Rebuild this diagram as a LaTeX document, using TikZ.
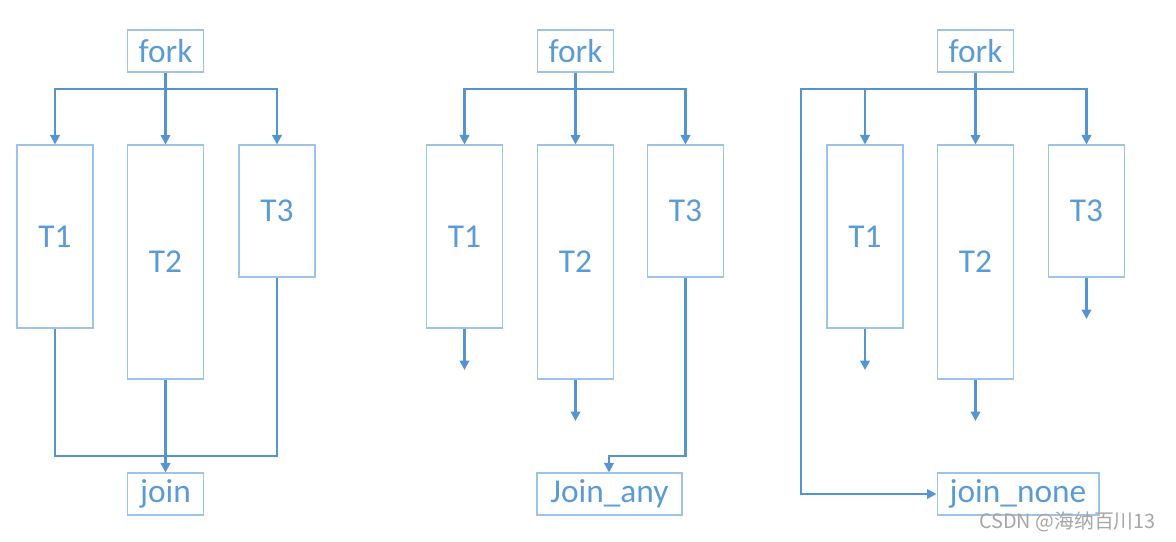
\documentclass[tikz,border=0pt]{standalone}
\usepackage{fontspec}
\setmainfont{Carlito}
\newfontfamily\cjkfont{Noto Sans CJK SC}
\usetikzlibrary{arrows.meta}
\definecolor{boxblue}{RGB}{157,195,230}
\definecolor{lineblue}{RGB}{84,148,208}
\definecolor{textblue}{RGB}{91,155,213}
\tikzset{
  task/.style={draw=boxblue, line width=0.6pt, text=textblue, minimum width=1.52cm, font=\fontsize{19}{21}\selectfont},
  flow/.style={draw=lineblue, line width=1.3pt},
  tip/.style={-{Triangle[width=0.19cm,length=0.19cm]}}
}
\begin{document}
\begin{tikzpicture}[x=0.02cm, y=-0.02cm]
    \useasboundingbox (0,0) rectangle (1176,541);
    % fork + join
    \node[task, minimum height=0.84cm] (fork1) at (165.5,51) {fork};
    \node[task, minimum height=3.66cm] (t1) at (55,236.5) {T1};
    \node[task, minimum height=4.68cm] (t2) at (165.5,262) {T2};
    \node[task, minimum height=2.64cm] (t3) at (277,211) {T3};
    \node[task, minimum height=0.84cm] (join1) at (165.5,494) {join};
    \coordinate (top1) at (165.5,89);
    \coordinate (bot1) at (165.5,456);
    \draw[flow, tip] (fork1) -- (t2);
    \draw[flow, tip] (top1) -| (t1);
    \draw[flow, tip] (top1) -| (t3);
    \draw[flow] (t1.south) |- (bot1) -| (t3.south);
    \draw[flow, tip] (t2) -- (join1);
    % fork + join_any
    \node[task, minimum height=0.84cm] (fork2) at (575.5,51) {fork};
    \node[task, minimum height=3.66cm] (t1b) at (464.5,236.5) {T1};
    \node[task, minimum height=4.68cm] (t2b) at (575.5,262) {T2};
    \node[task, minimum height=2.64cm] (t3b) at (685.5,211) {T3};
    \node[task, minimum height=0.84cm, minimum width=2.9cm] (joinany) at (609.5,494) {Join\_any};
    \coordinate (top2) at (575.5,89);
    \coordinate (end1b) at (464.5,370);
    \coordinate (end2b) at (575.5,421);
    \coordinate (turn2) at (609,456);
    \draw[flow, tip] (fork2) -- (t2b);
    \draw[flow, tip] (top2) -| (t1b);
    \draw[flow, tip] (top2) -| (t3b);
    \draw[flow, tip] (t1b) -- (end1b);
    \draw[flow, tip] (t2b) -- (end2b);
    \draw[flow, tip] (t3b.south) |- (turn2) -- (turn2 |- joinany.north);
    % fork + join_none
    \node[task, minimum height=0.84cm] (fork3) at (975.5,51) {fork};
    \node[task, minimum height=3.66cm] (t1c) at (865,236.5) {T1};
    \node[task, minimum height=4.68cm] (t2c) at (975.5,262) {T2};
    \node[task, minimum height=2.64cm] (t3c) at (1086.5,211) {T3};
    \node[task, minimum height=0.84cm, minimum width=3.24cm] (joinnone) at (1018,494) {join\_none};
    \coordinate (top3) at (975.5,89);
    \coordinate (left3) at (801,89);
    \coordinate (end1c) at (865,370);
    \coordinate (end2c) at (975.5,421);
    \coordinate (end3c) at (1086.5,319);
    \draw[flow, tip] (fork3) -- (t2c);
    \draw[flow, tip] (top3) -| (t1c);
    \draw[flow, tip] (top3) -| (t3c);
    \draw[flow, tip] (top3) -- (left3) |- (joinnone.west);
    \draw[flow, tip] (t1c) -- (end1c);
    \draw[flow, tip] (t2c) -- (end2c);
    \draw[flow, tip] (t3c) -- (end3c);
    \node[text=black!35, font=\cjkfont\fontsize{11.3}{12}\selectfont, anchor=east] (mark) at (1162,522) {CSDN @海纳百川13};
\end{tikzpicture}
\end{document}
